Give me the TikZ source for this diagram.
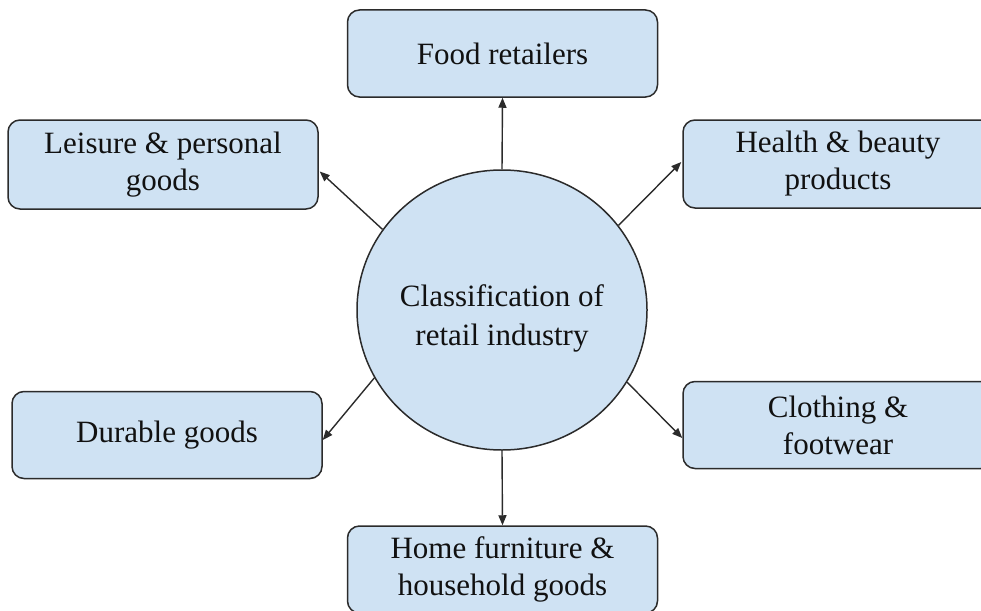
\documentclass[tikz,border=0pt]{standalone}
\usepackage{fontspec}
\setmainfont{Liberation Serif}
\usetikzlibrary{shapes.geometric,arrows.meta,calc}
\definecolor{boxfill}{HTML}{CFE2F3}
\definecolor{boxline}{HTML}{2B2B2B}
\definecolor{txt}{HTML}{111111}
\begin{document}
\begin{tikzpicture}[x=1pt,y=-1pt,
  catbox/.style={draw=boxline, line width=1.5pt, fill=boxfill, rounded corners=12pt,
    minimum width=310pt, minimum height=87pt, align=center, text=txt,
    font=\fontsize{31}{37}\selectfont, inner sep=0pt},
  hub/.style={ellipse, draw=boxline, line width=1.5pt, fill=boxfill,
    minimum width=290pt, minimum height=280pt, inner sep=0pt},
  hubtext/.style={align=center, text=txt, font=\fontsize{31}{39}\selectfont, inner sep=0pt},
  conn/.style={draw=boxline, line width=1.4pt, -{Triangle[length=10pt,width=8pt]}}]
\useasboundingbox (0,0) rectangle (981,610);
\clip (0,0) rectangle (981,610);
\node[hub] (c) at (502,310) {};
\node[hubtext] (clabel) at (502,318) {Classification of\\retail industry};
\node[catbox] (food) at (502.5,53.5) {Food retailers};
\node[catbox, minimum height=89pt] (leisure) at (163,164.5) {Leisure \& personal\\goods};
\node[catbox, minimum height=88pt] (health) at (838,164) {Health \& beauty\\products};
\node[catbox] (durable) at (167,435) {Durable goods};
\node[catbox] (clothing) at (838,425) {Clothing \&\\footwear};
\node[catbox] (home) at (502.5,569.5) {Home furniture \&\\household goods};
\draw[conn] (c.north) -- (food.south);
\draw[conn] (c.146) -- ($(leisure.east)+(1,7)$);
\draw[conn] (c.36) -- ($(health.west)+(-1,-2)$);
\draw[conn] (c.-30) -- ($(clothing.west)+(0,13)$);
\draw[conn] (c.208) -- ($(durable.east)+(0,5)$);
\draw[conn] (c.south) -- (home.north);
\end{tikzpicture}
\end{document}
